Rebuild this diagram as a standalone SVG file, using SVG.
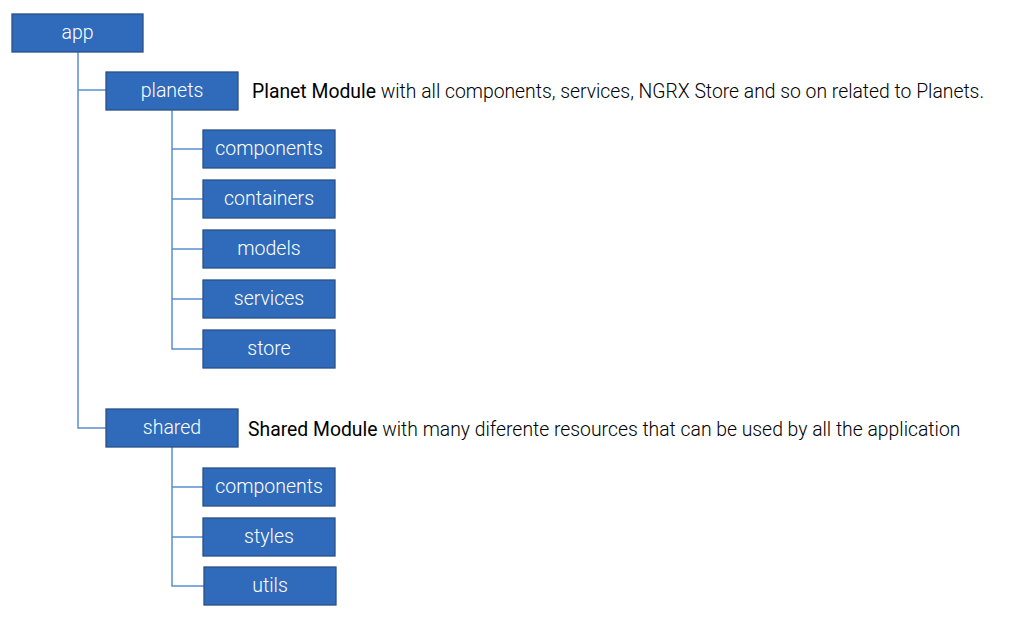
<svg xmlns="http://www.w3.org/2000/svg" width="1015" height="625" viewBox="0 0 1015 625">
<style>
.box{fill:#2F6BBA;stroke:#2A4F86;stroke-width:1.3}
.bt{font-family:Roboto,"Liberation Sans",sans-serif;font-size:19.5px;font-weight:300;fill:#fff;text-anchor:middle;dominant-baseline:central}
.ln{fill:none;stroke:#5B8ED4;stroke-width:1.5}
.desc{font-family:Roboto,"Liberation Sans",sans-serif;font-size:19.35px;font-weight:300;fill:#000}
.b{font-weight:400;fill:#000}
</style>
<rect width="1015" height="625" fill="#fff"/>
<g id="connectors">
<path class="ln" d="M78 52V428H106M78 90H106"/>
<path class="ln" d="M172 110V349H203M172 149H203M172 199H203M172 249H203M172 299H203"/>
<path class="ln" d="M172 447V586H204M172 487H203M172 537H203"/>
</g>
<g id="app"><rect class="box" x="12" y="14" width="131" height="38"/><text class="bt" x="77.5" y="32">app</text></g>
<g id="planets"><rect class="box" x="106" y="72" width="132" height="38"/><text class="bt" x="172" y="90">planets</text></g>
<g id="p-components"><rect class="box" x="203" y="130" width="132" height="38"/><text class="bt" x="269" y="148">components</text></g>
<g id="p-containers"><rect class="box" x="203" y="180" width="132" height="38"/><text class="bt" x="269" y="198">containers</text></g>
<g id="p-models"><rect class="box" x="203" y="230" width="132" height="38"/><text class="bt" x="269" y="248">models</text></g>
<g id="p-services"><rect class="box" x="203" y="280" width="132" height="38"/><text class="bt" x="269" y="298">services</text></g>
<g id="p-store"><rect class="box" x="203" y="330" width="132" height="38"/><text class="bt" x="269" y="348">store</text></g>
<g id="shared"><rect class="box" x="106" y="409" width="132" height="38"/><text class="bt" x="172" y="427">shared</text></g>
<g id="s-components"><rect class="box" x="203" y="468" width="132" height="38"/><text class="bt" x="269" y="486">components</text></g>
<g id="s-styles"><rect class="box" x="203" y="518" width="132" height="38"/><text class="bt" x="269" y="536">styles</text></g>
<g id="s-utils"><rect class="box" x="204" y="567" width="132" height="38"/><text class="bt" x="270" y="585">utils</text></g>
<text class="desc" x="252" y="98"><tspan class="b">Planet Module</tspan> with all components, services, NGRX Store and so on related to Planets.</text>
<text class="desc" x="248" y="436"><tspan class="b">Shared Module</tspan> with many diferente resources that can be used by all the application</text>
</svg>
